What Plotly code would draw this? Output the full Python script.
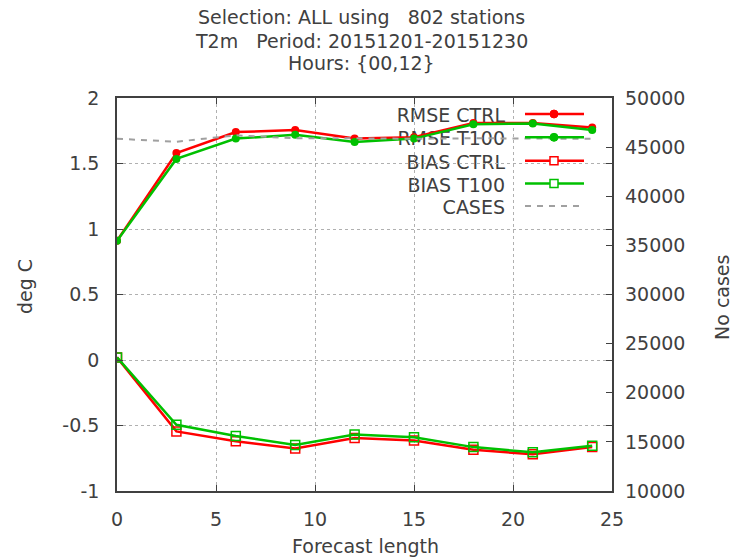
import plotly.graph_objects as go

# Forecast lengths (hours) and verification scores
lead_hours = [0, 3, 6, 9, 12, 15, 18, 21, 24]
rmse_ctrl = [0.91, 1.58, 1.74, 1.755, 1.69, 1.70, 1.81, 1.81, 1.775]
rmse_t100 = [0.91, 1.535, 1.69, 1.72, 1.665, 1.69, 1.80, 1.805, 1.755]
bias_ctrl = [0.02, -0.545, -0.62, -0.675, -0.595, -0.615, -0.685, -0.72, -0.665]
bias_t100 = [0.02, -0.495, -0.58, -0.648, -0.568, -0.589, -0.665, -0.705, -0.655]
cases = [45850, 45550, 46200, 45900, 45900, 45850, 45900, 45900, 45850]

# Axis ticks
x_ticks = [0, 5, 10, 15, 20, 25]
y_ticks = [-1, -0.5, 0, 0.5, 1, 1.5, 2]
y_tick_text = ["-1", "-0.5", "0", "0.5", "1", "1.5", "2"]
y2_ticks = [10000, 15000, 20000, 25000, 30000, 35000, 40000, 45000, 50000]
y2_tick_text = [str(v) for v in y2_ticks]

title_lines = [
    "Selection: ALL using   802 stations",
    "T2m   Period: 20151201-20151230",
    "Hours: {00,12}",
]

RED = "#ff0000"
GREEN = "#00c000"
GREY = "#a0a0a0"
TEXT = "#404040"
FONT = "DejaVu Sans"
FS = 19

W, H = 735, 558
ML, MR, MT, MB = 117, 123, 98, 67
PW, PH = W - ML - MR, H - MT - MB


def px_x(px):
    return (px - ML) / PW


def px_y(py):
    return (H - MB - py) / PH


fig = go.Figure()

fig.add_trace(go.Scatter(x=lead_hours, y=rmse_ctrl, mode="lines+markers", name="RMSE CTRL",
                         line=dict(color=RED, width=2.5),
                         marker=dict(symbol="circle", size=8, color=RED)))
fig.add_trace(go.Scatter(x=lead_hours, y=rmse_t100, mode="lines+markers", name="RMSE T100",
                         line=dict(color=GREEN, width=2.5),
                         marker=dict(symbol="circle", size=8, color=GREEN)))
fig.add_trace(go.Scatter(x=lead_hours, y=bias_ctrl, mode="lines+markers", name="BIAS CTRL",
                         line=dict(color=RED, width=2.5),
                         marker=dict(symbol="square-open", size=9, color=RED,
                                     line=dict(width=1.5, color=RED))))
fig.add_trace(go.Scatter(x=lead_hours, y=bias_t100, mode="lines+markers", name="BIAS T100",
                         line=dict(color=GREEN, width=2.5),
                         marker=dict(symbol="square-open", size=9, color=GREEN,
                                     line=dict(width=1.5, color=GREEN))))
fig.add_trace(go.Scatter(x=lead_hours, y=cases, mode="lines", name="CASES", yaxis="y2",
                         line=dict(color=GREY, width=2, dash="6px,6px")))

# Key drawn in the upper right: opaque box, right-aligned labels, samples to the right
shapes = [dict(type="rect", xref="paper", yref="paper", layer="between",
               x0=px_x(393), x1=px_x(593), y0=px_y(217), y1=px_y(100),
               fillcolor="white", line=dict(width=0))]

key_rows = [
    ("RMSE CTRL", RED, "circle", None),
    ("RMSE T100", GREEN, "circle", None),
    ("BIAS CTRL", RED, "square", None),
    ("BIAS T100", GREEN, "square", None),
    ("CASES", GREY, None, "dash"),
]
row_y = [114, 137.3, 160.7, 183.5, 206]
text_right, s0, s1, smid = 508, 525, 584, 554

for (label, color, sym, dash), ry in zip(key_rows, row_y):
    shapes.append(dict(type="rect", xref="paper", yref="paper", layer="between",
                       x0=px_x(380), x1=px_x(text_right), y0=px_y(ry + 11), y1=px_y(ry - 11),
                       line=dict(width=0), fillcolor="rgba(0,0,0,0)",
                       label=dict(text=label, textposition="middle right", padding=0,
                                  font=dict(family=FONT, size=FS, color=TEXT))))
    shapes.append(dict(type="line", xref="paper", yref="paper", layer="above",
                       x0=px_x(s0), x1=px_x(s1), y0=px_y(ry), y1=px_y(ry),
                       line=dict(color=color, width=2.5 if dash is None else 2,
                                 dash="6px,6px" if dash else "solid")))
    if sym == "circle":
        shapes.append(dict(type="circle", xref="paper", yref="paper", layer="above",
                           xsizemode="pixel", ysizemode="pixel",
                           xanchor=px_x(smid), yanchor=px_y(ry),
                           x0=-4, x1=4, y0=-4, y1=4,
                           fillcolor=color, line=dict(color=color, width=1)))
    elif sym == "square":
        shapes.append(dict(type="rect", xref="paper", yref="paper", layer="above",
                           xsizemode="pixel", ysizemode="pixel",
                           xanchor=px_x(smid), yanchor=px_y(ry),
                           x0=-4, x1=4, y0=-4, y1=4,
                           fillcolor="white", line=dict(color=color, width=1.5)))

annotations = []
for line, cy in zip(title_lines, [17.5, 40.5, 63]):
    annotations.append(dict(text=line, xref="paper", yref="paper", x=px_x(361), y=px_y(cy),
                            xanchor="center", yanchor="middle", showarrow=False,
                            font=dict(family=FONT, size=FS, color=TEXT)))
annotations.append(dict(text="deg C", xref="paper", yref="paper", x=px_x(25), y=px_y(287),
                        textangle=-90, xanchor="center", yanchor="middle", showarrow=False,
                        font=dict(family=FONT, size=FS, color=TEXT)))
annotations.append(dict(text="No cases", xref="paper", yref="paper", x=px_x(722), y=px_y(298),
                        textangle=-90, xanchor="center", yanchor="middle", showarrow=False,
                        font=dict(family=FONT, size=FS, color=TEXT)))
annotations.append(dict(text="Forecast length", xref="paper", yref="paper", x=px_x(365),
                        y=px_y(546), xanchor="center", yanchor="middle", showarrow=False,
                        font=dict(family=FONT, size=FS, color=TEXT)))

tick_font = dict(family=FONT, size=FS, color=TEXT)
fig.update_layout(
    width=W, height=H,
    margin=dict(l=ML, r=MR, t=MT, b=MB),
    paper_bgcolor="white", plot_bgcolor="white",
    showlegend=False,
    shapes=shapes,
    annotations=annotations,
    xaxis=dict(range=[0, 25], tickvals=x_ticks, ticks="inside", ticklen=6,
               tickcolor="#404040", tickwidth=1, showline=True, linecolor="#404040",
               linewidth=1.5, mirror="ticks", showgrid=True, gridcolor="#b0b0b0",
               griddash="dot", gridwidth=1, zeroline=False, tickfont=tick_font,
               ticklabelstandoff=10),
    yaxis=dict(range=[-1, 2], tickvals=y_ticks, ticktext=y_tick_text, ticks="inside",
               ticklen=6, tickcolor="#404040", tickwidth=1, showline=True,
               linecolor="#404040", linewidth=1.5, mirror="ticks", showgrid=True,
               gridcolor="#b0b0b0", griddash="dot", gridwidth=1, zeroline=False,
               tickfont=tick_font, ticklabelstandoff=12),
    yaxis2=dict(range=[10000, 50000], tickvals=y2_ticks, ticktext=y2_tick_text,
                overlaying="y", side="right",
                ticks="inside", ticklen=6, tickcolor="#404040", tickwidth=1,
                showline=False, showgrid=False, zeroline=False, tickfont=tick_font,
                ticklabelstandoff=12),
)

fig.write_html("out.html")
